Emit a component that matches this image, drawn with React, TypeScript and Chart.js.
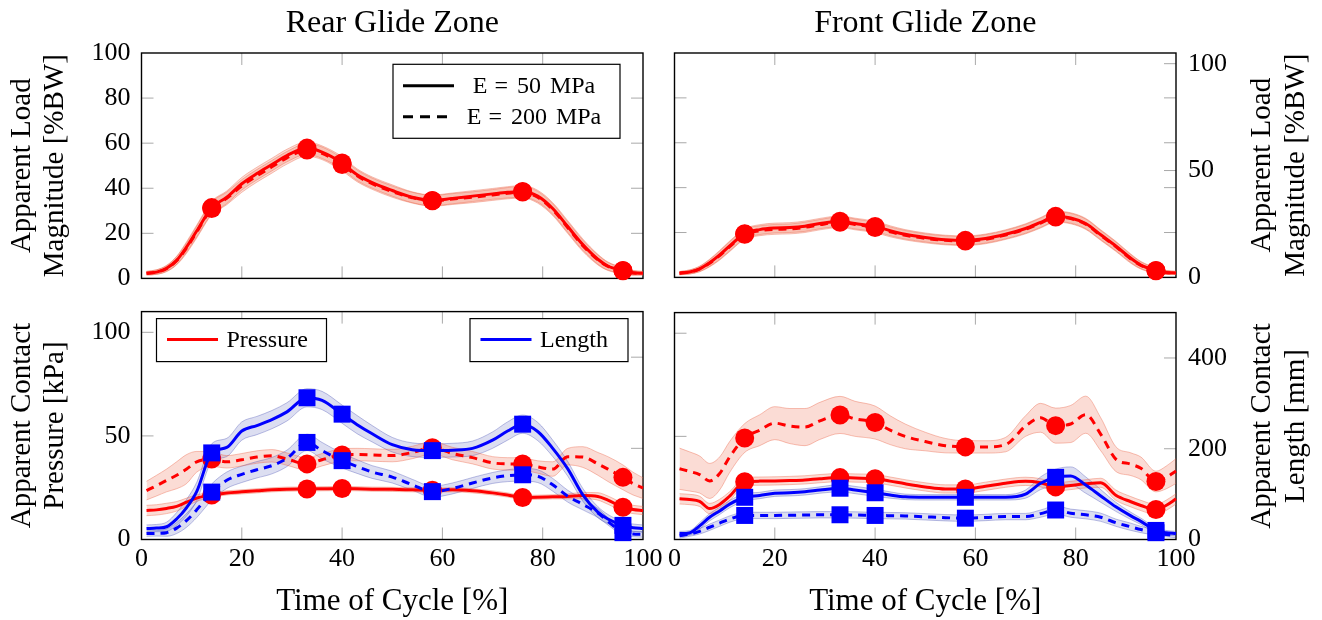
import React, { useEffect, useRef } from "react";
import { Chart, registerables } from "chart.js";

Chart.register(...registerables);

const FONT = '"Liberation Serif", "Times New Roman", serif';
Chart.defaults.font.family = FONT;

// ---------------- data ----------------
const X = [1, 3, 5, 7, 9, 11, 14, 17, 20, 23, 26, 29, 33, 36, 40, 43, 46, 50, 54, 58, 62, 66, 70, 73, 76, 79, 82, 85, 88, 91, 93, 96, 98, 100];
const MARK_X = [14, 33, 40, 58, 76, 96];

const X_TICK_LABELS = [0, 20, 40, 60, 80, 100];
const X_TICK_MARKS = [20, 40, 60, 80];
const LOAD_TICK_LABELS = [0, 20, 40, 60, 80, 100];
const LOAD_TICK_MARKS = [20, 40, 60, 80];
const LOAD_RIGHT_TICK_LABELS = [0, 50, 100];
const LOAD_RIGHT_TICK_MARKS = [50, 100];
const PRESSURE_TICK_LABELS = [0, 50, 100];
const PRESSURE_TICK_MARKS = [50, 100];
const LENGTH_TICK_LABELS = [0, 200, 400];
const LENGTH_TICK_MARKS = [200, 400];

// Rear glide zone – apparent load magnitude [%BW]
const REAR_LOAD_E50 = [2.3, 2.8, 4.5, 8, 14, 21, 31.4, 36, 42, 46.5, 50.5, 54.5, 57.8, 56, 51.2, 46, 42.5, 39, 36, 34.6, 35.5, 36.5, 37.5, 38.2, 38.6, 36.5, 31, 23, 15, 8.5, 5.5, 3.5, 2.5, 2.3];
const REAR_LOAD_E200 = [2.3, 2.8, 4.3, 7.8, 13.5, 20.5, 31, 35.5, 41, 45.5, 49.5, 53.5, 57, 55.5, 50.5, 45.5, 42, 38.5, 35.8, 34.4, 35.2, 36, 37, 37.8, 38.3, 36, 30.5, 22.5, 14.5, 8.2, 5.3, 3.4, 2.4, 2.3];
const REAR_LOAD_SD = [0.8, 1, 1.3, 1.8, 2.3, 2.6, 2.8, 2.8, 2.8, 2.8, 2.8, 2.8, 2.8, 2.8, 2.8, 2.6, 2.5, 2.5, 2.4, 2.4, 2.4, 2.4, 2.4, 2.5, 2.6, 2.6, 2.6, 2.6, 2.5, 2.2, 1.8, 1.3, 1, 0.8];

// Front glide zone – apparent load magnitude [%BW]
const FRONT_LOAD_E50 = [1.9, 2.4, 3.8, 6.5, 10, 14, 19.5, 21.3, 22, 22.2, 22.8, 24, 25, 24, 22.7, 20.8, 19.2, 17.8, 16.8, 16.5, 17.3, 19.2, 21.8, 24.5, 27.2, 26.5, 24, 19, 14, 8.5, 5.5, 3.1, 2.2, 2];
const FRONT_LOAD_E200 = [1.9, 2.4, 3.7, 6.3, 9.7, 13.7, 19.2, 20.8, 21.4, 21.6, 22.3, 23.5, 24.6, 23.6, 22.2, 20.3, 18.8, 17.4, 16.5, 16.2, 17, 18.9, 21.5, 24.2, 26.9, 26.2, 23.7, 18.7, 13.7, 8.2, 5.3, 3, 2.2, 2];
const FRONT_LOAD_SD = [0.7, 0.9, 1.2, 1.6, 2, 2.2, 2.2, 2.2, 2.2, 2.2, 2.3, 2.3, 2.4, 2.4, 2.3, 2.2, 2.1, 2, 2, 2, 2, 2, 2.1, 2.2, 2.3, 2.3, 2.3, 2.2, 2.1, 1.9, 1.6, 1.2, 0.9, 0.7];

// Rear glide zone – contact pressure [kPa] and contact length [mm]
const REAR_P_E50 = [14, 14.3, 15, 16, 18, 20, 21.5, 22.5, 23, 23.5, 24, 24.3, 24.4, 24.5, 24.6, 24.5, 24.3, 24.2, 24, 23.8, 24, 23.5, 22.5, 21.5, 20.3, 20.4, 20.6, 20.8, 21.2, 20.8, 19, 15.6, 14.5, 14];
const REAR_P_E50_SD = [2.5, 2.5, 2.5, 2.3, 2, 1.6, 1.2, 1, 1, 1, 1, 1, 1, 1, 1, 1, 1, 1, 1, 1, 1, 1, 1, 1, 1, 1, 1, 1.2, 1.5, 1.8, 2, 2, 2, 2];
const REAR_P_E200 = [23.6, 26, 28.5, 31, 34, 37.5, 38.8, 37.5, 38.5, 39.8, 40.4, 38.8, 36.5, 38.5, 40.8, 41, 40.8, 40.5, 42, 44.3, 41.5, 39.5, 37, 36.5, 36.4, 35, 34, 40, 39.8, 36.5, 34, 30, 27, 24.8];
const REAR_P_E200_SD = [4.5, 5, 5.5, 6.5, 7, 5, 3.5, 3, 3, 3, 3, 3, 3, 3, 3, 3, 3, 3, 3, 3, 3, 3, 3, 3, 3, 3, 3.5, 4, 5, 5.5, 6, 6, 5.5, 5];
const REAR_L_E50 = [24, 25, 28, 45, 70, 105, 190, 202, 238, 250, 263, 280, 311, 305, 275, 252, 232, 208, 197, 195, 196, 200, 218, 238, 253, 237, 200, 155, 98, 60, 45, 31, 26, 24];
const REAR_L_E50_SD = [8, 8, 10, 14, 18, 20, 20, 20, 20, 20, 20, 20, 20, 20, 20, 20, 18, 16, 15, 15, 15, 16, 18, 20, 20, 20, 18, 16, 14, 12, 10, 8, 8, 8];
const REAR_L_E200 = [13, 13.5, 15, 25, 42, 65, 104, 130, 143, 153, 162, 178, 213, 195, 173, 160, 148, 137, 120, 105, 112, 124, 135, 140, 142, 139, 120, 95, 77, 58, 40, 15, 12, 11];
const REAR_L_E200_SD = [6, 6, 8, 12, 15, 17, 18, 18, 18, 18, 18, 18, 18, 18, 16, 15, 14, 13, 12, 12, 12, 12, 12, 13, 14, 14, 14, 13, 12, 10, 8, 6, 6, 6];

// Front glide zone – contact pressure [kPa] and contact length [mm]
const FRONT_P_E50 = [19.7, 19.4, 18.5, 15, 17, 21, 28, 28.3, 28.4, 28.6, 28.9, 29.5, 30, 29.8, 29.5, 28.3, 27, 25.5, 24.5, 24.5, 25.8, 27.3, 28.2, 27.5, 25.5, 26.2, 27, 27.5, 21.5, 18.3, 16.5, 14.5, 16.5, 19.7];
const FRONT_P_E50_SD = [2.5, 2.5, 2.5, 2.5, 2.5, 2.2, 2, 2, 2, 2, 2, 2, 2, 2, 2, 2, 2, 2, 2, 2, 2, 2, 2, 2, 2, 2, 2, 2.2, 2.5, 2.5, 2.5, 2.5, 2.5, 2.5];
const FRONT_P_E200 = [34.3, 33, 31.5, 28.4, 32, 40, 49.2, 53, 56.4, 55, 54.5, 57.5, 60.4, 58.5, 56.7, 53, 50, 47.5, 45.5, 44.9, 44.9, 46, 55, 59, 55.2, 56, 60.5, 51, 39, 36.5, 34.5, 28.1, 30, 33.2];
const FRONT_P_E200_SD = [10, 9.5, 9, 8.5, 8, 7.5, 7, 7.5, 8, 8.5, 9, 9, 9, 8.5, 8, 7, 6, 4.5, 3.5, 3, 3, 3.5, 5, 7, 8.5, 9, 9, 8, 6, 5.5, 5.5, 5, 5.5, 6];
const FRONT_L_E50 = [13, 14.5, 30, 49, 63, 78, 93, 97, 102, 103, 105, 109, 113, 109, 103, 98, 94, 93, 93, 93, 93, 93, 100, 124, 137, 140, 120, 96, 72, 52, 40, 20, 15, 13];
const FRONT_L_E50_SD = [5, 5, 7, 8, 8, 8, 8, 7, 7, 7, 7, 7, 8, 8, 8, 7, 6, 6, 6, 6, 6, 6, 9, 14, 18, 20, 18, 14, 10, 8, 7, 6, 5, 5];
const FRONT_L_E200 = [8, 12, 18, 27, 36, 45, 53, 53, 53, 53.5, 54, 54.5, 54.5, 54, 53, 52.5, 52, 50, 48, 47, 48.5, 50.5, 50.5, 57, 65, 58, 54.5, 49, 37, 28, 22, 15, 11, 9];
const FRONT_L_E200_SD = [5, 5, 6, 7, 7, 7, 7, 7, 7, 7, 7, 7, 7, 7, 7, 7, 7, 7, 7, 7, 7, 7, 7, 8, 9, 9, 9, 9, 8, 8, 7, 6, 5, 5];

const LEGEND_E50 = ["E", "=", "50", "MPa"];
const LEGEND_E200 = ["E", "=", "200", "MPa"];

// ---------------- styling ----------------
const RED = "#ff0000";
const BLUE = "#0000ff";
const BANDS: Record<string, { fill: string; edge: string }> = {
  red: { fill: "rgba(235,95,65,0.22)", edge: "rgba(235,95,65,0.38)" },
  blue: { fill: "rgba(50,60,170,0.17)", edge: "rgba(50,60,170,0.32)" },
};
const TICK_LEN = 12;

type SeriesSpec = {
  values: number[];
  sd: number[];
  kind: "red" | "blue";
  dashed: boolean;
  axis: string;
  marker: "circle" | "rect";
};

function makeDatasets(series: SeriesSpec[]) {
  const bands: any[] = [];
  const lines: any[] = [];
  for (const s of series) {
    const b = BANDS[s.kind];
    const color = s.kind === "red" ? RED : BLUE;
    bands.push({
      data: X.map((x, i) => ({ x, y: s.values[i] + s.sd[i] })),
      yAxisID: s.axis,
      borderColor: b.edge,
      borderWidth: 1,
      pointRadius: 0,
      fill: false,
      order: 20,
      cubicInterpolationMode: "monotone",
    });
    bands.push({
      data: X.map((x, i) => ({ x, y: s.values[i] - s.sd[i] })),
      yAxisID: s.axis,
      borderColor: b.edge,
      borderWidth: 1,
      pointRadius: 0,
      fill: "-1",
      backgroundColor: b.fill,
      order: 20,
      cubicInterpolationMode: "monotone",
    });
    lines.push({
      data: X.map((x, i) => ({ x, y: s.values[i] })),
      yAxisID: s.axis,
      borderColor: color,
      borderWidth: 3,
      borderDash: s.dashed ? [8, 6] : [],
      fill: false,
      pointStyle: s.marker,
      pointRadius: (c: any) =>
        MARK_X.includes(X[c.dataIndex]) ? (s.marker === "rect" ? 12 : 9.5) : 0,
      pointBackgroundColor: color,
      pointBorderColor: color,
      pointBorderWidth: 0,
      order: s.kind === "blue" ? 1 : 2,
      cubicInterpolationMode: "monotone",
      clip: false,
    });
  }
  return [...bands, ...lines];
}

const tickFont = { family: FONT, size: 26 };

function shownY(position: string, min: number, max: number, labels: number[], width: number, padding: number) {
  return {
    type: "linear",
    position,
    min,
    max,
    display: true,
    grid: { display: false, drawTicks: false },
    border: { display: false },
    ticks: { color: "#000", font: tickFont, padding },
    afterBuildTicks: (s: any) => {
      s.ticks = labels.map((v) => ({ value: v }));
    },
    afterFit: (s: any) => {
      s.width = width;
    },
  };
}
function hiddenY(position: string, min: number, max: number) {
  return { type: "linear", position, min, max, display: false };
}
function hiddenX() {
  return { type: "linear", min: 0, max: 100, display: false };
}
function shownX(height: number) {
  return {
    type: "linear",
    position: "bottom",
    min: 0,
    max: 100,
    display: true,
    grid: { display: false, drawTicks: false },
    border: { display: false },
    ticks: { color: "#000", font: tickFont, padding: 4, maxRotation: 0, autoSkip: false },
    afterBuildTicks: (s: any) => {
      s.ticks = X_TICK_LABELS.map((v) => ({ value: v }));
    },
    afterFit: (s: any) => {
      s.height = height;
    },
  };
}

type Marks = { axis: string; values: number[] };
type PanelSpec = {
  id: string;
  left: number;
  top: number;
  width: number;
  height: number;
  padding: { left: number; right: number; top: number; bottom: number };
  series: SeriesSpec[];
  scales: any;
  title?: string;
  yTitle: string[];
  ySide: "left" | "right";
  xTitle?: string;
  marks: { x: number[]; left: Marks[]; right: Marks[] };
  legend?: "load" | "contact";
};

const Y_LOAD_TITLE = ["Apparent Load", "Magnitude [%BW]"];
const Y_PRESSURE_TITLE = ["Apparent Contact", "Pressure [kPa]"];
const Y_LENGTH_TITLE = ["Apparent Contact", "Length [mm]"];
const X_TITLE = "Time of Cycle [%]";

const PANELS: PanelSpec[] = [
  {
    id: "rear-load",
    left: 0,
    top: 0,
    width: 672,
    height: 305,
    padding: { left: 0, right: 29, top: 53, bottom: 23 },
    series: [
      { values: REAR_LOAD_E200, sd: REAR_LOAD_SD, kind: "red", dashed: true, axis: "y", marker: "circle" },
      { values: REAR_LOAD_E50, sd: REAR_LOAD_SD, kind: "red", dashed: false, axis: "y", marker: "circle" },
    ],
    scales: { x: hiddenX(), y: shownY("left", 0, 100, LOAD_TICK_LABELS, 141.5, 11) },
    title: "Rear Glide Zone",
    yTitle: Y_LOAD_TITLE,
    ySide: "left",
    marks: {
      x: X_TICK_MARKS,
      left: [{ axis: "y", values: LOAD_TICK_MARKS }],
      right: [{ axis: "y", values: LOAD_TICK_MARKS }],
    },
    legend: "load",
  },
  {
    id: "front-load",
    left: 650,
    top: 0,
    width: 672,
    height: 305,
    padding: { left: 24.5, right: 0, top: 53, bottom: 23 },
    series: [
      { values: FRONT_LOAD_E200, sd: FRONT_LOAD_SD, kind: "red", dashed: true, axis: "y", marker: "circle" },
      { values: FRONT_LOAD_E50, sd: FRONT_LOAD_SD, kind: "red", dashed: false, axis: "y", marker: "circle" },
    ],
    scales: {
      x: hiddenX(),
      y: hiddenY("left", 0, 100),
      yR: shownY("right", 0, 105, LOAD_RIGHT_TICK_LABELS, 146, 12),
    },
    title: "Front Glide Zone",
    yTitle: Y_LOAD_TITLE,
    ySide: "right",
    marks: {
      x: X_TICK_MARKS,
      left: [{ axis: "y", values: LOAD_TICK_MARKS }],
      right: [
        { axis: "y", values: LOAD_TICK_MARKS },
        { axis: "yR", values: LOAD_RIGHT_TICK_MARKS },
      ],
    },
  },
  {
    id: "rear-contact",
    left: 0,
    top: 285,
    width: 672,
    height: 335,
    padding: { left: 0, right: 29, top: 25.5, bottom: 0 },
    series: [
      { values: REAR_P_E200, sd: REAR_P_E200_SD, kind: "red", dashed: true, axis: "y", marker: "circle" },
      { values: REAR_P_E50, sd: REAR_P_E50_SD, kind: "red", dashed: false, axis: "y", marker: "circle" },
      { values: REAR_L_E200, sd: REAR_L_E200_SD, kind: "blue", dashed: true, axis: "y2", marker: "rect" },
      { values: REAR_L_E50, sd: REAR_L_E50_SD, kind: "blue", dashed: false, axis: "y2", marker: "rect" },
    ],
    scales: {
      x: shownX(80.5),
      y: shownY("left", 0, 110, PRESSURE_TICK_LABELS, 141.5, 11),
      y2: hiddenY("right", 0, 500),
    },
    yTitle: Y_PRESSURE_TITLE,
    ySide: "left",
    xTitle: X_TITLE,
    marks: {
      x: X_TICK_MARKS,
      left: [{ axis: "y", values: PRESSURE_TICK_MARKS }],
      right: [{ axis: "y2", values: LENGTH_TICK_MARKS }],
    },
    legend: "contact",
  },
  {
    id: "front-contact",
    left: 650,
    top: 285,
    width: 672,
    height: 335,
    padding: { left: 24.5, right: 0, top: 25.5, bottom: 0 },
    series: [
      { values: FRONT_P_E200, sd: FRONT_P_E200_SD, kind: "red", dashed: true, axis: "y", marker: "circle" },
      { values: FRONT_P_E50, sd: FRONT_P_E50_SD, kind: "red", dashed: false, axis: "y", marker: "circle" },
      { values: FRONT_L_E200, sd: FRONT_L_E200_SD, kind: "blue", dashed: true, axis: "y2", marker: "rect" },
      { values: FRONT_L_E50, sd: FRONT_L_E50_SD, kind: "blue", dashed: false, axis: "y2", marker: "rect" },
    ],
    scales: {
      x: shownX(80.5),
      y: hiddenY("left", 0, 110),
      y2: shownY("right", 0, 500, LENGTH_TICK_LABELS, 146, 12),
    },
    yTitle: Y_LENGTH_TITLE,
    ySide: "right",
    xTitle: X_TITLE,
    marks: {
      x: X_TICK_MARKS,
      left: [{ axis: "y", values: PRESSURE_TICK_MARKS }],
      right: [{ axis: "y2", values: LENGTH_TICK_MARKS }],
    },
  },
];

function drawSegments(ctx: CanvasRenderingContext2D, segs: string[], gaps: number[], cx: number, y: number) {
  const widths = segs.map((s) => ctx.measureText(s).width);
  const total = widths.reduce((a, b) => a + b, 0) + gaps.reduce((a, b) => a + b, 0);
  let x = cx - total / 2;
  ctx.textAlign = "left";
  segs.forEach((s, i) => {
    ctx.fillText(s, x, y);
    x += widths[i] + (gaps[i] || 0);
  });
}

function makePlugin(spec: PanelSpec) {
  return {
    id: "panelDecor",
    beforeDraw(chart: any) {
      const { ctx, chartArea: a, scales } = chart;
      ctx.save();
      ctx.strokeStyle = "#a9a9a9";
      ctx.lineWidth = 1;
      ctx.beginPath();
      for (const v of spec.marks.x) {
        const px = scales.x.getPixelForValue(v);
        ctx.moveTo(px, a.top);
        ctx.lineTo(px, a.top + TICK_LEN);
        ctx.moveTo(px, a.bottom);
        ctx.lineTo(px, a.bottom - TICK_LEN);
      }
      for (const m of spec.marks.left)
        for (const v of m.values) {
          const py = scales[m.axis].getPixelForValue(v);
          ctx.moveTo(a.left, py);
          ctx.lineTo(a.left + TICK_LEN, py);
        }
      for (const m of spec.marks.right)
        for (const v of m.values) {
          const py = scales[m.axis].getPixelForValue(v);
          ctx.moveTo(a.right, py);
          ctx.lineTo(a.right - TICK_LEN, py);
        }
      ctx.stroke();
      ctx.strokeStyle = "#000";
      ctx.lineWidth = 1.4;
      ctx.strokeRect(a.left, a.top, a.right - a.left, a.bottom - a.top);
      ctx.restore();
    },
    afterDraw(chart: any) {
      const { ctx, chartArea: a } = chart;
      const cx = (a.left + a.right) / 2;
      const cy = (a.top + a.bottom) / 2;
      ctx.save();
      ctx.fillStyle = "#000";
      ctx.textAlign = "center";
      if (spec.title) {
        ctx.font = `32px ${FONT}`;
        ctx.textBaseline = "alphabetic";
        ctx.fillText(spec.title, cx, a.top - 21);
      }
      if (spec.xTitle) {
        ctx.font = `31px ${FONT}`;
        ctx.textBaseline = "alphabetic";
        ctx.fillText(spec.xTitle, cx, a.bottom + 70.5);
      }
      ctx.font = `29px ${FONT}`;
      ctx.textBaseline = "middle";
      spec.yTitle.forEach((line, i) => {
        const x = spec.ySide === "left" ? a.left - 119.5 + i * 33.7 : a.right + 86 + i * 34;
        ctx.save();
        ctx.translate(x, cy);
        ctx.rotate(-Math.PI / 2);
        ctx.fillText(line, 0, 0);
        ctx.restore();
      });

      if (spec.legend === "load") {
        const bw = 227, bh = 74;
        const bx = a.right - 23 - bw, by = a.top + 11.3;
        ctx.fillStyle = "#fff";
        ctx.fillRect(bx, by, bw, bh);
        ctx.strokeStyle = "#000";
        ctx.lineWidth = 1.2;
        ctx.strokeRect(bx, by, bw, bh);
        const rows = [
          { y: by + 21.5, dash: [] as number[], segs: LEGEND_E50 },
          { y: by + 52.5, dash: [10, 7], segs: LEGEND_E200 },
        ];
        ctx.font = `24px ${FONT}`;
        ctx.textBaseline = "middle";
        for (const r of rows) {
          ctx.strokeStyle = "#000";
          ctx.lineWidth = 3;
          ctx.setLineDash(r.dash);
          ctx.beginPath();
          ctx.moveTo(bx + 10, r.y);
          ctx.lineTo(bx + 61, r.y);
          ctx.stroke();
          ctx.setLineDash([]);
          ctx.fillStyle = "#000";
          drawSegments(ctx, r.segs, [7, 9, 9], bx + 141, r.y + 1);
        }
      }
      if (spec.legend === "contact") {
        const items = [
          { bx: a.left + 15, bw: 170, color: RED, label: "Pressure" },
          { bx: a.right - 15 - 158, bw: 158, color: BLUE, label: "Length" },
        ];
        const by = a.top + 7, bh = 43;
        ctx.font = `24px ${FONT}`;
        ctx.textBaseline = "middle";
        ctx.textAlign = "left";
        for (const it of items) {
          ctx.fillStyle = "#fff";
          ctx.fillRect(it.bx, by, it.bw, bh);
          ctx.strokeStyle = "#000";
          ctx.lineWidth = 1.2;
          ctx.strokeRect(it.bx, by, it.bw, bh);
          ctx.strokeStyle = it.color;
          ctx.lineWidth = 3;
          ctx.beginPath();
          ctx.moveTo(it.bx + 10.5, by + 21);
          ctx.lineTo(it.bx + 61.5, by + 21);
          ctx.stroke();
          ctx.fillStyle = "#000";
          ctx.fillText(it.label, it.bx + 70, by + 22);
        }
      }
      ctx.restore();
    },
  };
}

function Panel({ spec }: { spec: PanelSpec }) {
  const ref = useRef<HTMLCanvasElement>(null);
  useEffect(() => {
    const chart = new Chart(ref.current as HTMLCanvasElement, {
      type: "line",
      data: { datasets: makeDatasets(spec.series) as any },
      options: {
        responsive: false,
        animation: false,
        devicePixelRatio: 1,
        events: [],
        layout: { padding: spec.padding },
        scales: spec.scales,
        plugins: {
          legend: { display: false },
          tooltip: { enabled: false },
          filler: { drawTime: "beforeDatasetsDraw", propagate: false },
        },
      } as any,
      plugins: [makePlugin(spec)],
    });
    return () => chart.destroy();
  }, [spec]);
  return (
    <canvas
      ref={ref}
      width={spec.width}
      height={spec.height}
      style={{ position: "absolute", left: spec.left, top: spec.top, width: spec.width, height: spec.height }}
    />
  );
}

export default function App() {
  return (
    <div
      style={{
        position: "absolute",
        left: 0,
        top: 0,
        width: 1322,
        height: 620,
        background: "#fff",
        overflow: "hidden",
      }}
    >
      {PANELS.map((p) => (
        <Panel key={p.id} spec={p} />
      ))}
    </div>
  );
}
